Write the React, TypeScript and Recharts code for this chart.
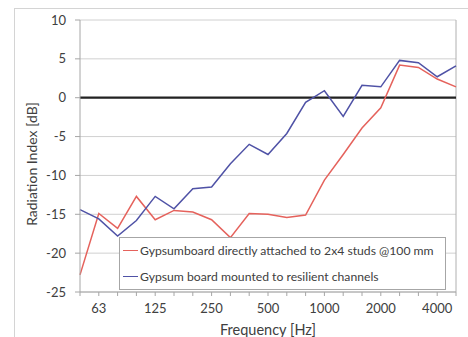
import React from "react";
import {
  LineChart,
  Line,
  XAxis,
  YAxis,
  CartesianGrid,
  ReferenceLine,
  Legend,
} from "recharts";

// 1/3-octave band centre frequencies [Hz]
const bands = [
  "50", "63", "80", "100", "125", "160", "200", "250", "315", "400", "500",
  "630", "800", "1000", "1250", "1600", "2000", "2500", "3150", "4000", "5000",
];

// octave bands that get a tick label
const labelledBands = ["63", "125", "250", "500", "1000", "2000", "4000"];

// radiation index [dB]
const directlyAttached = [
  -22.8, -14.9, -16.8, -12.7, -15.7, -14.5, -14.7, -15.7, -18.0, -14.9, -15.0,
  -15.4, -15.1, -10.6, -7.3, -3.9, -1.3, 4.2, 3.9, 2.4, 1.4,
];
const resilientChannels = [
  -14.4, -15.6, -17.8, -15.8, -12.7, -14.3, -11.7, -11.5, -8.5, -6.0, -7.3,
  -4.6, -0.6, 0.9, -2.4, 1.6, 1.4, 4.8, 4.5, 2.7, 4.1,
];

const yTicks = [-25, -20, -15, -10, -5, 0, 5, 10];

const seriesNames = [
  "Gypsumboard directly attached to 2x4 studs @100 mm",
  "Gypsum board mounted to resilient channels",
];

const RED = "#e5625c";
const BLUE = "#4f52a6";
const TEXT = "#404040";
const FONT = "Lato, 'Open Sans', sans-serif";

const data = bands.map((f, i) => ({
  freq: f,
  direct: directlyAttached[i],
  resilient: resilientChannels[i],
}));

function LegendBox() {
  const rows = [
    { name: seriesNames[0], color: RED },
    { name: seriesNames[1], color: BLUE },
  ];
  return (
    <div
      style={{
        boxSizing: "border-box",
        width: "100%",
        height: "100%",
        background: "#fff",
        border: "1px solid #a6a6a6",
        padding: "3px 0 0 3px",
        fontFamily: FONT,
        fontSize: 12.2,
        color: TEXT,
      }}
    >
      {rows.map((r) => (
        <div
          key={r.name}
          style={{ display: "flex", alignItems: "center", height: 19, marginBottom: 7 }}
        >
          <span
            style={{ display: "inline-block", width: 15, height: 1.5, background: r.color, marginRight: 2 }}
          />
          <span style={{ whiteSpace: "nowrap" }}>{r.name}</span>
        </div>
      ))}
    </div>
  );
}

export default function App() {
  return (
    <div
      style={{ position: "fixed", left: 0, top: 0, width: 468, height: 337, background: "#fff", overflow: "hidden" }}
    >
      <div
        style={{
          position: "absolute",
          left: 14,
          top: 8,
          width: 500,
          height: 400,
          borderLeft: "1px solid #d4d4d4",
          borderTop: "1px solid #d4d4d4",
        }}
      />
      <LineChart
        width={468}
        height={337}
        data={data}
        margin={{ top: 20, right: 12, left: 30, bottom: 0 }}
        style={{ position: "absolute", left: 0, top: 0 }}
      >
        <CartesianGrid vertical={false} stroke="#d0d0d0" />
        <XAxis
          dataKey="freq"
          interval={0}
          height={45}
          tickSize={4}
          tickMargin={8}
          stroke="#a6a6a6"
          tick={{ fill: TEXT, fontSize: 13, fontFamily: FONT }}
          tickFormatter={(v) => (labelledBands.includes(String(v)) ? String(v) : "")}
          label={{
            value: "Frequency [Hz]",
            position: "insideBottom",
            offset: 2,
            fill: TEXT,
            fontSize: 14.5,
            fontFamily: FONT,
          }}
        />
        <YAxis
          width={50}
          domain={[-25, 10]}
          ticks={yTicks}
          interval={0}
          tickSize={5}
          tickMargin={9}
          stroke="#a6a6a6"
          tick={{ fill: TEXT, fontSize: 13, fontFamily: FONT }}
          label={{
            content: () => (
              <text
                x={33}
                y={164}
                transform="rotate(-90 33 164)"
                textAnchor="middle"
                dominantBaseline="middle"
                fill={TEXT}
                fontSize={14}
                fontFamily={FONT}
              >
                Radiation Index [dB]
              </text>
            ),
          }}
        />
        <ReferenceLine x={bands[bands.length - 1]} stroke="#b0b0b0" />
        <ReferenceLine y={0} stroke="#222" strokeWidth={2.2} />
        <Line
          dataKey="direct"
          name={seriesNames[0]}
          stroke={RED}
          strokeWidth={1.5}
          dot={false}
          isAnimationActive={false}
        />
        <Line
          dataKey="resilient"
          name={seriesNames[1]}
          stroke={BLUE}
          strokeWidth={1.5}
          dot={false}
          isAnimationActive={false}
        />
        <Legend
          layout="horizontal"
          verticalAlign="middle"
          align="center"
          content={() => <LegendBox />}
          wrapperStyle={{ left: 119, top: 237, width: 327, height: 53 }}
        />
      </LineChart>
    </div>
  );
}
